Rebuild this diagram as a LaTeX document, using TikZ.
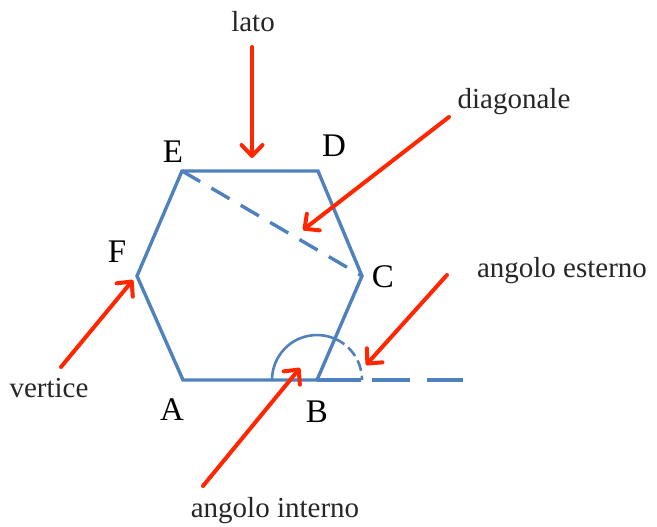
\documentclass[tikz,border=0pt]{standalone}
\usepackage{fontspec}
\setmainfont{Liberation Serif}
\usetikzlibrary{arrows.meta}
\definecolor{hexblue}{RGB}{79,129,189}
\definecolor{arrred}{RGB}{255,38,0}
\begin{document}
\begin{tikzpicture}[x=1pt,y=-1pt,
  side/.style={draw=hexblue,line width=3.4pt},
  anglearc/.style={draw=hexblue,line width=2.6pt},
  redarrow/.style={draw=arrred,line width=4pt,line cap=round,
    -{Straight Barb[length=11pt,width=21pt,round]}},
  vlbl/.style={anchor=base,font=\fontsize{33}{36}\selectfont,inner sep=0pt},
  txt/.style={anchor=base,font=\fontsize{29}{32}\selectfont,text=black!85,inner sep=0pt}]
\useasboundingbox (0,0) rectangle (657,527);
% hexagon vertices
\coordinate (A) at (183,380);
\coordinate (B) at (317,380);
\coordinate (C) at (362,276);
\coordinate (D) at (318,171);
\coordinate (E) at (182,171);
\coordinate (F) at (137,276);
\draw[side,line join=miter] (A)--(B)--(C)--(D)--(E)--(F)--cycle;
% diagonal
\draw[side,dash pattern=on 21pt off 13pt] (E)--(C);
% angles at B
\draw[anglearc] (B) ++(-45,0) arc[start angle=180,end angle=293.4,radius=45];
\draw[anglearc,dash pattern=on 11pt off 5pt] (B) ++(293.4:45) arc[start angle=293.4,end angle=360,radius=45];
% extension of AB
\coordinate (X0) at (361,380);
\coordinate (X1) at (372,380);
\coordinate (X2) at (463,380);
\draw[side] (B)--(X0);
\draw[side,dash pattern=on 38pt off 17pt] (X1)--(X2);
% vertex labels
\node[vlbl] (lA) at (172,420) {A};
\node[vlbl] (lB) at (317,422) {B};
\node[vlbl] (lC) at (383,287) {C};
\node[vlbl] (lD) at (334,157) {D};
\node[vlbl] (lE) at (173,162) {E};
\node[vlbl] (lF) at (117,262) {F};
% texts
\node[txt] (tlato) at (253,32) {lato};
\node[txt] (tdiag) at (514,109) {diagonale};
\node[txt] (test) at (562,277) {angolo esterno};
\node[txt] (tvert) at (49,397) {vertice};
\node[txt] (tint) at (275,517) {angolo interno};
% arrows
\coordinate (lato0) at (252,47);   \coordinate (lato1) at (252,158);
\coordinate (diag0) at (449,117);  \coordinate (diag1) at (303,230);
\coordinate (est0) at (447,275);   \coordinate (est1) at (366,365);
\coordinate (vert0) at (61,367);   \coordinate (vert1) at (133,280);
\coordinate (int0) at (203,486);   \coordinate (int1) at (300,368);
\draw[redarrow] (lato0) -- (lato1);
\draw[redarrow] (diag0) -- (diag1);
\draw[redarrow] (est0) -- (est1);
\draw[redarrow] (vert0) -- (vert1);
\draw[redarrow] (int0) -- (int1);
\end{tikzpicture}
\end{document}
